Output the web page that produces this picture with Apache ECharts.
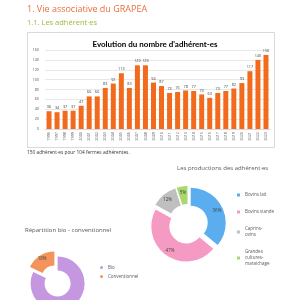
<!DOCTYPE html>
<html><head><meta charset="utf-8">
<script src="https://cdn.jsdelivr.net/npm/echarts@6/dist/echarts.min.js"></script>
<style>html,body{margin:0;padding:0;background:#fff}#c{width:300px;height:300px}</style>
</head><body><div id="c"></div>
<script>
const years = ['1996','1997','1998','1999','2000','2001','2002','2003','2004','2005','2006','2007','2008','2009','2010','2011','2012','2013','2014','2015','2016','2017','2018','2019','2020','2021','2022','2023'];
const members = [36,34,37,37,47,66,66,83,92,113,83,129,129,94,87,73,75,78,77,70,63,73,77,82,93,117,140,150];
const yTicks = [0,20,40,60,80,100,120,140,160];
const prodNames = ['Bovins lait','Bovins viande','Caprins-ovins','Grandes cultures-maraichage'];
const prodLegendText = {'Bovins lait':'Bovins lait','Bovins viande':'Bovins viande','Caprins-ovins':'Caprins-\novins','Grandes cultures-maraichage':'Grandes\ncultures-\nmaraichage'};
const prodValues = [36,47,12,5];
const bioNames = ['Bio','Conventionnel'];
const bioValues = [82,18];

const F = 'Open Sans, Lato, sans-serif';
const chart = echarts.init(document.getElementById('c'), null, {renderer:'canvas'});
chart.setOption({
  animation:false,
  textStyle:{fontFamily:F},
  graphic:[
    {type:'rect', shape:{x:27.5,y:32.5,width:247,height:115}, style:{fill:'none', stroke:'#d9d9d9', lineWidth:1}, z:-1},
    {type:'text', left:27, top:5, style:{text:'1. Vie associative du GRAPEA', fill:'#e8703a', font:'9px '+F}},
    {type:'text', left:27, top:19, style:{text:'1.1. Les adhérent·es', fill:'#9bbb3b', font:'7.5px '+F}},
    {type:'text', left:27, top:150, style:{text:'150 adhérent·es pour 104 fermes adhérentes.', fill:'#333', font:'4.8px '+F}},
    {type:'text', left:177, top:165, style:{text:'Les productions des adhérent·es', fill:'#595959', font:'6px '+F}},
    {type:'text', left:25, top:227, style:{text:'Répartition bio - conventionnel', fill:'#595959', font:'6px '+F}}
  ],
  title:{text:"Evolution du nombre d'adhérent-es", left:150, textAlign:'center', top:35, textStyle:{fontSize:8, fontWeight:'bold', color:'#000', fontFamily:'Lato, sans-serif'}},
  grid:{left:45, right:30, top:50, bottom:171},
  xAxis:{type:'category', data:years, axisLine:{lineStyle:{color:'#d9d9d9'}}, axisTick:{show:false},
    axisLabel:{rotate:90, fontSize:3.8, color:'#595959', margin:3}},
  yAxis:{type:'value', min:0, max:160, interval:20, axisLine:{show:false}, axisTick:{show:false},
    splitLine:{lineStyle:{color:'#d9d9d9', width:0.6}},
    axisLabel:{fontSize:3.8, color:'#595959', margin:6, formatter:v=>yTicks.includes(v)?String(v):''}},
  legend:[
    {orient:'vertical', left:232, top:186, itemWidth:3, itemHeight:3, itemGap:9, icon:'rect', data:prodNames,
      formatter:n=>prodLegendText[n], textStyle:{fontSize:4.5, color:'#595959', lineHeight:6, padding:[2,0,0,0]}},
    {orient:'vertical', left:95, top:260, itemWidth:3, itemHeight:3, itemGap:4, icon:'circle', data:bioNames,
      textStyle:{fontSize:4.5, color:'#595959'}}
  ],
  series:[
    {type:'bar', data:members, barWidth:'62%', itemStyle:{color:'#f26a1b'},
      label:{show:true, position:'top', fontSize:3.8, color:'#404040', distance:2}},
    {type:'pie', center:[188,224], radius:[17,35], startAngle:90, selectedMode:'multiple', selectedOffset:3,
      data:prodNames.map((n,i)=>({name:n, value:prodValues[i], selected:true})),
      color:['#5aaef0','#f59ac3','#bfbfbf','#a9d86e'],
      label:{show:true, position:'inside', formatter:'{d}%', fontSize:4.5, color:'#404040'},
      labelLine:{show:false}},
    {type:'pie', center:[56,281], radius:[13,27], startAngle:90, selectedMode:'multiple', selectedOffset:3,
      data:bioNames.map((n,i)=>({name:n, value:bioValues[i], selected:true})),
      color:['#c497e0','#f5945a'],
      label:{show:true, position:'inside', formatter:'{d}%', fontSize:4.5, color:'#404040'},
      labelLine:{show:false}}
  ]
});
</script></body></html>
